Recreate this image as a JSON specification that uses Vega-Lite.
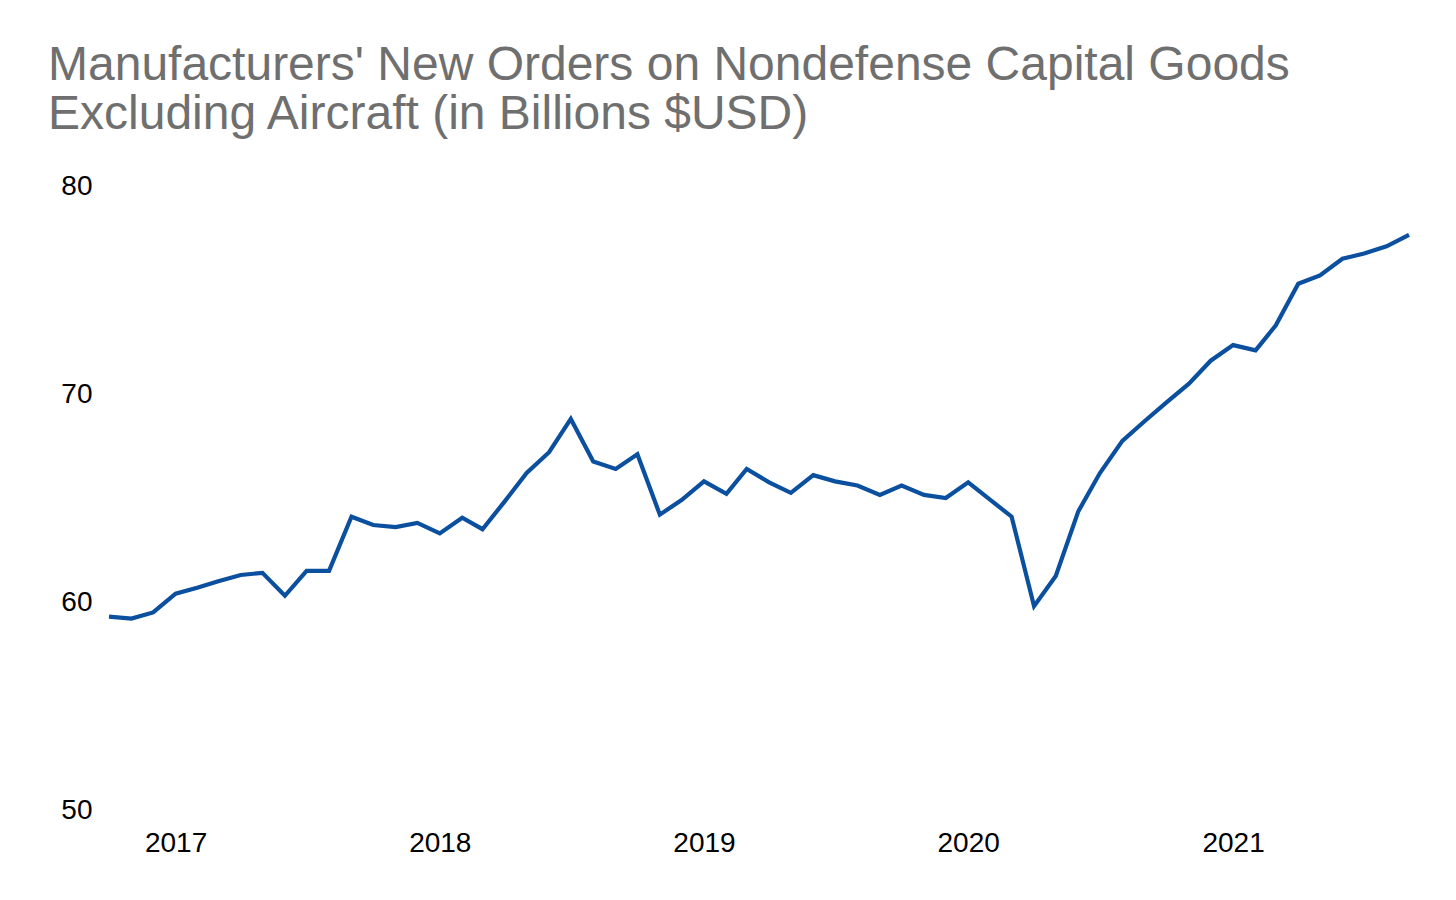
{
  "$schema": "https://vega.github.io/schema/vega-lite/v6.json",
  "description": "Manufacturers' new orders on nondefense capital goods excluding aircraft",
  "width": 1300,
  "height": 624,
  "autosize": {"type": "none"},
  "padding": {"left": 109, "top": 186, "right": 47, "bottom": 90},
  "background": "white",
  "title": {
    "text": [
      "Manufacturers' New Orders on Nondefense Capital Goods",
      "Excluding Aircraft (in Billions $USD)"
    ],
    "anchor": "start",
    "frame": "group",
    "dx": -61,
    "offset": 33,
    "font": "Liberation Sans",
    "fontSize": 48,
    "fontWeight": "normal",
    "lineHeight": 49,
    "color": "#6f6f6f"
  },
  "data": {
    "values": [
      {"month": "2016-10-01", "orders": 59.3},
      {"month": "2016-11-01", "orders": 59.2},
      {"month": "2016-12-01", "orders": 59.5},
      {"month": "2017-01-01", "orders": 60.4},
      {"month": "2017-02-01", "orders": 60.7},
      {"month": "2017-03-01", "orders": 61.0},
      {"month": "2017-04-01", "orders": 61.3},
      {"month": "2017-05-01", "orders": 61.4},
      {"month": "2017-06-01", "orders": 60.3},
      {"month": "2017-07-01", "orders": 61.5},
      {"month": "2017-08-01", "orders": 61.5},
      {"month": "2017-09-01", "orders": 64.1},
      {"month": "2017-10-01", "orders": 63.7},
      {"month": "2017-11-01", "orders": 63.6},
      {"month": "2017-12-01", "orders": 63.8},
      {"month": "2018-01-01", "orders": 63.3},
      {"month": "2018-02-01", "orders": 64.05},
      {"month": "2018-03-01", "orders": 63.5},
      {"month": "2018-04-01", "orders": 64.85},
      {"month": "2018-05-01", "orders": 66.2},
      {"month": "2018-06-01", "orders": 67.2},
      {"month": "2018-07-01", "orders": 68.8},
      {"month": "2018-08-01", "orders": 66.75},
      {"month": "2018-09-01", "orders": 66.4},
      {"month": "2018-10-01", "orders": 67.1},
      {"month": "2018-11-01", "orders": 64.2},
      {"month": "2018-12-01", "orders": 64.9},
      {"month": "2019-01-01", "orders": 65.8},
      {"month": "2019-02-01", "orders": 65.2},
      {"month": "2019-03-01", "orders": 66.4},
      {"month": "2019-04-01", "orders": 65.75},
      {"month": "2019-05-01", "orders": 65.25},
      {"month": "2019-06-01", "orders": 66.1},
      {"month": "2019-07-01", "orders": 65.8},
      {"month": "2019-08-01", "orders": 65.6},
      {"month": "2019-09-01", "orders": 65.15},
      {"month": "2019-10-01", "orders": 65.6},
      {"month": "2019-11-01", "orders": 65.15},
      {"month": "2019-12-01", "orders": 65.0},
      {"month": "2020-01-01", "orders": 65.75},
      {"month": "2020-02-01", "orders": 64.9},
      {"month": "2020-03-01", "orders": 64.1},
      {"month": "2020-04-01", "orders": 59.8},
      {"month": "2020-05-01", "orders": 61.25},
      {"month": "2020-06-01", "orders": 64.35},
      {"month": "2020-07-01", "orders": 66.2},
      {"month": "2020-08-01", "orders": 67.75},
      {"month": "2020-09-01", "orders": 68.7},
      {"month": "2020-10-01", "orders": 69.6},
      {"month": "2020-11-01", "orders": 70.5},
      {"month": "2020-12-01", "orders": 71.6},
      {"month": "2021-01-01", "orders": 72.35},
      {"month": "2021-02-01", "orders": 72.1},
      {"month": "2021-03-01", "orders": 73.3},
      {"month": "2021-04-01", "orders": 75.3},
      {"month": "2021-05-01", "orders": 75.7},
      {"month": "2021-06-01", "orders": 76.5},
      {"month": "2021-07-01", "orders": 76.75},
      {"month": "2021-08-01", "orders": 77.1},
      {"month": "2021-09-01", "orders": 77.65}
    ]
  },
  "mark": {"type": "line", "color": "#0b4f9f", "strokeWidth": 4.2, "strokeJoin": "miter", "clip": false},
  "encoding": {
    "x": {
      "field": "month",
      "type": "temporal",
      "scale": {"type": "utc", "nice": false},
      "title": null,
      "axis": {
        "format": "%Y",
        "tickCount": {"interval": "year", "step": 1},
        "grid": false,
        "domain": false,
        "ticks": false,
        "tickSize": 0,
        "labelPadding": 19,
        "labelFont": "Liberation Sans",
        "labelFontSize": 28,
        "labelColor": "#000000",
        "labelAlign": "center",
        "labelFlush": false,
        "labelOverlap": false
      }
    },
    "y": {
      "field": "orders",
      "type": "quantitative",
      "scale": {"domain": [50, 80], "nice": false, "zero": false},
      "title": null,
      "axis": {
        "values": [50, 60, 70, 80],
        "grid": false,
        "domain": false,
        "ticks": false,
        "tickSize": 0,
        "labelPadding": 17,
        "labelFont": "Liberation Sans",
        "labelFontSize": 28,
        "labelColor": "#000000"
      }
    }
  },
  "config": {
    "view": {"stroke": null}
  }
}
